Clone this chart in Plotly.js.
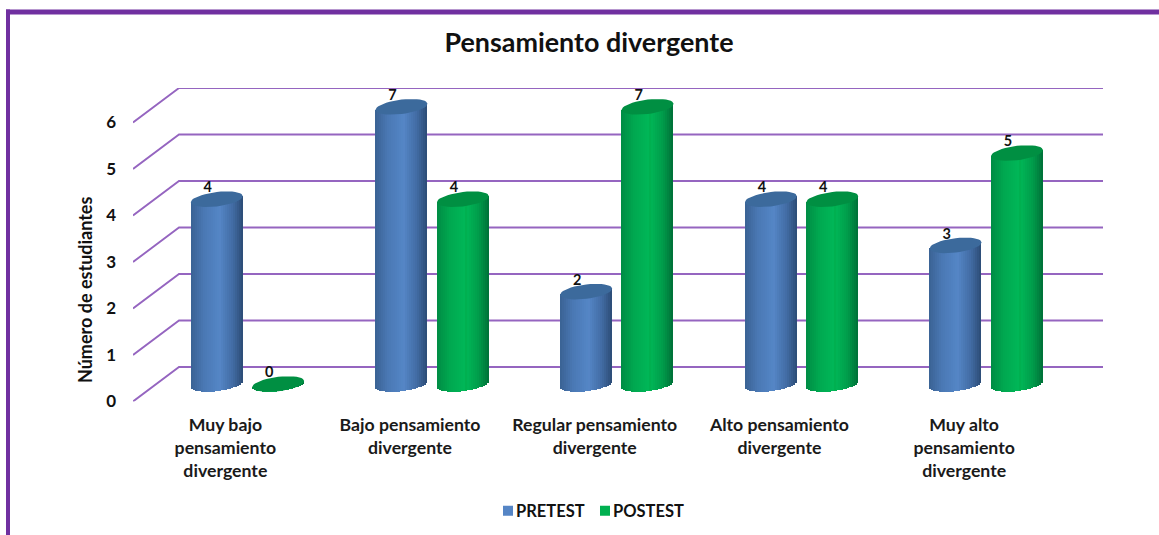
<!DOCTYPE html>
<html>
<head>
<meta charset="utf-8">
<script src="https://cdn.plot.ly/plotly-3.0.1.min.js"></script>
<style>html,body{margin:0;padding:0;background:#fff}#chart{width:1159px;height:535px}</style>
</head>
<body>
<div id="chart"></div>
<script>
// ---- data ----
const categories = ["Muy bajo<br>pensamiento<br>divergente","Bajo pensamiento<br>divergente","Regular pensamiento<br>divergente","Alto pensamiento<br>divergente","Muy alto<br>pensamiento<br>divergente"];
const pretest = [4,7,2,4,3];
const postest = [0,4,7,4,5];
const yTicks = [0,1,2,3,4,5,6];
const axisMax = 6;   // the original axis stops at 6, taller cylinders are cut there

// ---- geometry in px of the 1159x535 page ----
const W=1159,H=535,unit=46.2,catPx=184.7;
const fx=a=>a/W, fy=p=>1-p/H;
const barW=52/catPx, off=30.7/catPx, strips=26;
const ry=7.2, tilt=3;

function mix(stops,t){
  let i=0; while(i<stops.length-2 && t>stops[i+1][0]) i++;
  const [a,ca]=stops[i],[b,cb]=stops[i+1],k=Math.min(1,Math.max(0,(t-a)/(b-a)));
  return 'rgb('+ca.map((c,j)=>Math.round(c+(cb[j]-c)*k)).join(',')+')';
}
const blueStops=[[0,[58,98,148]],[0.25,[74,120,180]],[0.55,[84,134,198]],[0.8,[66,108,164]],[1,[44,76,118]]];
const greenStops=[[0,[0,140,68]],[0.25,[0,168,80]],[0.55,[0,184,88]],[0.8,[0,156,74]],[1,[0,112,56]]];

const traces=[];
// back wall + floor-to-wall lines, from the tick values
const depthV=34.5/46.5, leftV=-0.5, kneeV=-0.5+46/catPx, endV=-0.5+970/catPx;
const gx=[],gy=[];
yTicks.forEach(v=>{gx.push(leftV,kneeV,endV,null);gy.push(v,v+depthV,v+depthV,null);});
traces.push({type:'scatter',mode:'lines',x:gx,y:gy,xaxis:'x',yaxis:'y',showlegend:false,hoverinfo:'skip',
  line:{color:'#9565c0',width:1.9},cliponaxis:false});

function cylinders(name,vals,shift,stops,capColor){
  const idx=vals.map((_,i)=>i);
  const h=vals.map(v=>Math.min(v,axisMax));
  for(let s=0;s<strips;s++){
    const t0=s/strips,tm=(s+0.5)/strips,n=2*tm-1;
    const front=(-ry*Math.sqrt(1-n*n)+tilt*n)/unit, mid=tilt*n/unit;
    const isKey=s===Math.floor(strips*0.55);
    traces.push({type:'bar',x:idx,y:h.map(v=>v+mid-front),base:h.map(()=>front),
      width:barW/strips*(s===strips-1?1:1.25),offset:shift-barW/2+t0*barW,
      xaxis:'x2',yaxis:'y2',name:name,showlegend:isKey,hoverinfo:'skip',
      marker:{color:isKey&&name==='PRETEST'?'#5585c5':isKey?'#00b050':mix(stops,tm),line:{width:0}}});
  }
  // elliptical tops
  const cx=[],cy=[];
  h.forEach((v,i)=>{
    for(let a=0;a<=40;a++){
      const th=a/40*2*Math.PI,n=Math.cos(th);
      cx.push(i+shift+n*barW/2);
      cy.push(v+(tilt*n+ry*Math.sin(th))/unit);
    }
    cx.push(null);cy.push(null);
  });
  traces.push({type:'scatter',mode:'lines',x:cx,y:cy,fill:'toself',fillcolor:capColor,line:{width:0,color:capColor},
    xaxis:'x2',yaxis:'y2',showlegend:false,hoverinfo:'skip',cliponaxis:false});
  traces.push({type:'scatter',mode:'text',x:idx.map(i=>i+shift-9/catPx),y:h.map(v=>v+10.5/unit),text:vals.map(String),
    textposition:'middle center',textfont:{family:'Lato, Carlito, sans-serif',size:14.5,color:'#111',weight:700},
    xaxis:'x2',yaxis:'y2',showlegend:false,hoverinfo:'skip',cliponaxis:false});
}
cylinders('PRETEST',pretest,-off,blueStops,'#3c6a9c');
cylinders('POSTEST',postest,off,greenStops,'#008f42');

const font={family:'Lato, Carlito, sans-serif',color:'#1a1a1a',weight:700};
const layout={
  width:W,height:H,margin:{l:0,r:0,t:0,b:0,autoexpand:false},
  paper_bgcolor:'#fff',plot_bgcolor:'rgba(0,0,0,0)',barmode:'overlay',bargap:0,
  showlegend:true,
  title:{text:'Pensamiento divergente',font:Object.assign({},font,{size:26.9,color:'#111'}),x:589/W,xanchor:'center',y:1-43/H,yanchor:'middle'},
  xaxis:{domain:[fx(133),fx(1103)],range:[-0.5,endV],tickmode:'array',tickvals:categories.map((_,i)=>i),ticktext:categories,
    tickfont:Object.assign({},font,{size:17.7}),ticks:'',showgrid:false,zeroline:false,showline:false,tickangle:0,anchor:'y',ticklabelstandoff:11,fixedrange:true,automargin:false},
  yaxis:{domain:[fy(401.5),fy(88)],range:[0,313.5/46.5],tickmode:'array',tickvals:yTicks,ticktext:yTicks.map(String),
    tickfont:Object.assign({},font,{size:17,color:'#111'}),ticks:'',showgrid:false,zeroline:false,showline:false,anchor:'x',ticklabelstandoff:16,fixedrange:true,automargin:false},
  xaxis2:{domain:[fx(155.15),fx(1078.65)],range:[-0.5,4.5],visible:false,anchor:'y2',fixedrange:true},
  yaxis2:{domain:[fy(395),fy(70)],range:[(384-395)/unit,(384-70)/unit],visible:false,anchor:'x2',fixedrange:true},
  legend:{orientation:'h',x:fx(488),y:fy(511),xanchor:'left',yanchor:'middle',font:Object.assign({},font,{size:16.5,color:'#111'}),bgcolor:'rgba(0,0,0,0)',itemclick:false,itemdoubleclick:false},
  annotations:[{text:'Número de estudiantes',xref:'paper',yref:'paper',x:fx(85),y:fy(290),xanchor:'center',yanchor:'middle',textangle:-90,showarrow:false,
    font:Object.assign({},font,{size:18,color:'#111'})}],
  shapes:[
    {type:'rect',xref:'paper',yref:'paper',x0:fx(6),x1:1,y0:fy(14.5),y1:fy(9.5),fillcolor:'#7030a0',line:{width:0},layer:'below'},
    {type:'rect',xref:'paper',yref:'paper',x0:fx(6),x1:fx(10),y0:0,y1:fy(9.5),fillcolor:'#7030a0',line:{width:0},layer:'below'}
  ]
};
Plotly.newPlot('chart',traces,layout,{displayModeBar:false,responsive:false}).then(gd=>{
  // tighter legend: small swatch right beside its text, as in the original
  const items=gd.querySelectorAll('.legend .traces');
  items.forEach(it=>{
    it.querySelectorAll('.legendpoints path').forEach(p=>p.setAttribute('d','M5,5H-5V-5H5Z'));
    const t=it.querySelector('text.legendtext');
    if(t) t.setAttribute('x',parseFloat(t.getAttribute('x'))-12);
  });
  if(items[1]){
    const m=/translate\(([-\d.]+)[ ,]+([-\d.]+)\)/.exec(items[1].getAttribute('transform'));
    const sw=items[1].querySelector('.legendpoints path');
    if(m&&sw){
      const dx=600-sw.getBoundingClientRect().left;
      items[1].setAttribute('transform','translate('+(parseFloat(m[1])+dx)+','+m[2]+')');
    }
  }
});
</script>
</body>
</html>
